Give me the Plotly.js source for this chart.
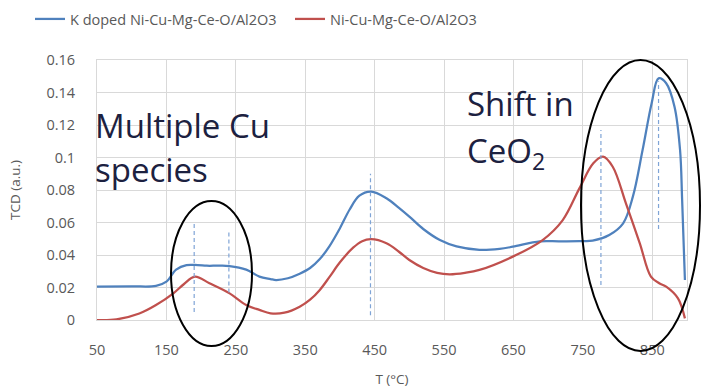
<!DOCTYPE html>
<html>
<head>
<meta charset="utf-8">
<script src="https://cdn.plot.ly/plotly-3.0.1.min.js"></script>
<style>html,body{margin:0;padding:0;background:#fff;}#chart{width:702px;height:390px;}</style>
</head>
<body>
<div id="chart"></div>
<script>
// ---- data ----
const seriesNames = ["K doped Ni-Cu-Mg-Ce-O/Al2O3", "Ni-Cu-Mg-Ce-O/Al2O3"];

const kDopedT = [50, 100, 135, 150, 164, 179, 195, 208, 225, 241, 265, 284, 300, 308, 325, 342, 357, 371, 385, 400, 414, 428, 445, 467, 485, 500, 520, 544, 568, 601, 630, 649, 688, 716, 745, 764, 788, 808, 822, 836, 849, 859, 870, 882, 890, 893, 897];
const kDopedTCD = [0.0205, 0.0207, 0.021, 0.0236, 0.031, 0.0338, 0.0338, 0.0334, 0.0334, 0.0332, 0.031, 0.0267, 0.0252, 0.0246, 0.0257, 0.0285, 0.032, 0.0375, 0.0455, 0.0565, 0.068, 0.0765, 0.079, 0.0749, 0.069, 0.0636, 0.056, 0.0492, 0.0453, 0.0432, 0.0438, 0.0451, 0.0484, 0.0484, 0.0486, 0.0488, 0.0523, 0.0595, 0.0759, 0.1046, 0.1333, 0.1487, 0.1457, 0.1313, 0.1046, 0.0738, 0.0246];

const undopedT = [50, 78, 111, 135, 160, 175, 191, 212, 241, 265, 284, 300, 320, 342, 357, 371, 385, 400, 419, 432, 445, 467, 485, 500, 520, 540, 558, 580, 601, 649, 692, 721, 745, 765, 779, 793, 812, 832, 848, 860, 870, 887, 897];
const undopedTCD = [0, 0.0004, 0.004, 0.0092, 0.0164, 0.022, 0.0267, 0.0226, 0.0164, 0.0092, 0.0062, 0.0041, 0.0045, 0.0082, 0.0125, 0.0185, 0.0265, 0.0355, 0.0445, 0.0485, 0.0497, 0.0472, 0.042, 0.0369, 0.032, 0.029, 0.0281, 0.029, 0.0308, 0.039, 0.0492, 0.0615, 0.081, 0.0964, 0.1005, 0.0943, 0.0718, 0.0472, 0.0267, 0.0226, 0.0205, 0.0133, 0.001];

// dashed peak markers
const peakT = [190, 240, 444, 776, 859];
const peakTop = [0.06, 0.055, 0.09, 0.117, 0.147];
const peakBottom = [0.005, 0.017, 0.003, 0.0215, 0.056];

const xTickVals = [50, 150, 250, 350, 450, 550, 650, 750, 850];
const xTickText = ["50", "150", "250", "350", "450", "550", "650", "750", "850"];
const yTickVals = [0, 0.02, 0.04, 0.06, 0.08, 0.1, 0.12, 0.14, 0.16];
const yTickText = ["0", "0.02", "0.04", "0.06", "0.08", "0.1", "0.12", "0.14", "0.16"];

const noteLeft = ["Multiple Cu", "species"];
const noteRight = ["Shift in", "CeO<sub>2</sub>"];

// ---- layout helpers (pixel -> paper) ----
const W = 702, H = 390;
const M = {l: 97, r: 15, t: 60, b: 70, autoexpand: false};
const PW = W - M.l - M.r, PH = H - M.t - M.b;
const px = v => (v - M.l) / PW;
const py = v => (H - M.b - v) / PH;

const dashX = [], dashY = [];
peakT.forEach((t, i) => { dashX.push(t, t, null); dashY.push(peakBottom[i], peakTop[i], null); });

const FONT = '"Open Sans", "Noto Sans", sans-serif';
const GREY = '#595959';

const traces = [
  {x: kDopedT, y: kDopedTCD, name: seriesNames[0], type: 'scatter', mode: 'lines',
   line: {color: '#4F81BD', width: 2.25, shape: 'spline', smoothing: 1}},
  {x: undopedT, y: undopedTCD, name: seriesNames[1], type: 'scatter', mode: 'lines',
   line: {color: '#C0504D', width: 2.25, shape: 'spline', smoothing: 1}},
  {x: dashX, y: dashY, type: 'scatter', mode: 'lines', showlegend: false, hoverinfo: 'skip',
   line: {color: '#7FA4D6', width: 1.2, dash: '4px,3px'}}
];

const noteColor = '#1c2140';
const noteFont = {family: FONT, size: 33, color: noteColor};

const layout = {
  width: W, height: H,
  margin: M,
  paper_bgcolor: '#fff', plot_bgcolor: '#fff',
  font: {family: FONT, color: GREY, size: 13},
  showlegend: true,
  legend: {orientation: 'h', x: px(30), xanchor: 'left', y: py(19), yanchor: 'middle',
           font: {family: FONT, size: 14.5, color: GREY}, entrywidth: 215, entrywidthmode: 'pixels',
           bgcolor: 'rgba(0,0,0,0)'},
  xaxis: {range: [50, 900], tickvals: xTickVals, ticktext: xTickText, showgrid: true,
          gridcolor: '#d9d9d9', gridwidth: 1, zeroline: false, showline: true, mirror: true,
          linecolor: '#d9d9d9', linewidth: 1, ticks: '', ticklabelstandoff: 17, automargin: false,
          tickfont: {family: FONT, size: 14.5, color: GREY},
          title: {text: 'T (°C)', font: {family: FONT, size: 13.5, color: GREY}, standoff: 16}},
  yaxis: {range: [0, 0.16], tickvals: yTickVals, ticktext: yTickText, showgrid: true,
          gridcolor: '#d9d9d9', gridwidth: 1, zeroline: false, showline: true, mirror: true,
          linecolor: '#d9d9d9', linewidth: 1, ticks: '', ticklabelstandoff: 18, automargin: false,
          tickfont: {family: FONT, size: 14.5, color: GREY},
          title: {text: 'TCD (a.u.)', font: {family: FONT, size: 13.5, color: GREY}, standoff: 22}},
  shapes: [
    {type: 'circle', xref: 'paper', yref: 'paper', x0: px(171), x1: px(252), y0: py(346), y1: py(201),
     line: {color: '#000', width: 2}},
    {type: 'circle', xref: 'paper', yref: 'paper', x0: px(581), x1: px(700), y0: py(351), y1: py(60),
     line: {color: '#000', width: 2}}
  ],
  annotations: [
    {text: noteLeft[0], xref: 'paper', yref: 'paper', x: px(93), y: py(125), xanchor: 'left', yanchor: 'middle', showarrow: false, font: noteFont},
    {text: noteLeft[1], xref: 'paper', yref: 'paper', x: px(93), y: py(169), xanchor: 'left', yanchor: 'middle', showarrow: false, font: noteFont},
    {text: noteRight[0], xref: 'paper', yref: 'paper', x: px(465), y: py(103), xanchor: 'left', yanchor: 'middle', showarrow: false, font: noteFont},
    {text: noteRight[1], xref: 'paper', yref: 'paper', x: px(465), y: py(152), xanchor: 'left', yanchor: 'middle', showarrow: false, font: noteFont}
  ]
};

Plotly.newPlot('chart', traces, layout, {displayModeBar: false, staticPlot: true});
</script>
</body>
</html>
